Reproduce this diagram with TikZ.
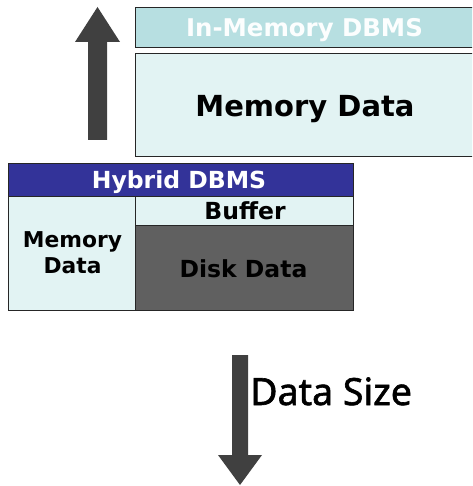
\documentclass[tikz,border=0pt]{standalone}
\usepackage{fontspec}
\setmainfont{DejaVu Sans}
\newfontfamily\sizefont[UprightFeatures={FakeBold=1.6}]{Noto Sans}
\definecolor{imtitle}{HTML}{B7DFE1}
\definecolor{memfill}{HTML}{E2F3F3}
\definecolor{navy}{HTML}{333399}
\definecolor{diskfill}{HTML}{606060}
\definecolor{arrowgray}{HTML}{404040}
\begin{document}
\begin{tikzpicture}[x=1pt,y=-1pt,
  cell/.style={draw=black!85,line width=0.9pt},
  lbl/.style={font=\bfseries\fontsize{23.5}{26}\selectfont,anchor=base,inner sep=0pt},
  bigarrow/.style={fill=arrowgray,draw=none}]
\useasboundingbox (0,0) rectangle (472,486);
\begin{scope}
\clip (0,0) rectangle (472,486);
% In-memory DBMS
\draw[cell,fill=imtitle] (135,7) rectangle (480,47);
\node[lbl,font=\bfseries\fontsize{24.4}{26}\selectfont,text=white!96!imtitle] (imt) at (304.5,37) {In-Memory DBMS};
\draw[cell,fill=memfill] (135,53) rectangle (480,156);
\node[lbl,font=\bfseries\fontsize{29}{32}\selectfont] (imd) at (305,117) {Memory Data};
\end{scope}
% up arrow
\fill[bigarrow] (88,140) -- (88,42) -- (75,42) -- (97.5,7) -- (120,42) -- (107,42) -- (107,140) -- cycle;
% Hybrid DBMS
\draw[cell,fill=navy] (8,163) rectangle (353,196);
\node[lbl,text=white] (ht) at (179,188) {Hybrid DBMS};
\draw[cell,fill=memfill] (8,196) rectangle (135,310);
\node[lbl,font=\bfseries\fontsize{21.8}{24}\selectfont] (hm1) at (72.5,247) {Memory};
\node[lbl,font=\bfseries\fontsize{21.8}{24}\selectfont] (hm2) at (72.5,273) {Data};
\draw[cell,fill=memfill] (135,196) rectangle (353,225);
\node[lbl] (hb) at (245,219) {Buffer};
\draw[cell,fill=diskfill] (135,225) rectangle (353,310);
\node[lbl] (hd) at (243.5,277) {Disk Data};
% down arrow
\fill[bigarrow] (232,355) -- (248,355) -- (248,455) -- (262,455) -- (240,485) -- (218,455) -- (232,455) -- cycle;
\node[anchor=base west,inner sep=0pt,font=\sizefont\fontsize{37.5}{40}\selectfont] (ds) at (250,405) {Data Size};
\end{tikzpicture}
\end{document}
